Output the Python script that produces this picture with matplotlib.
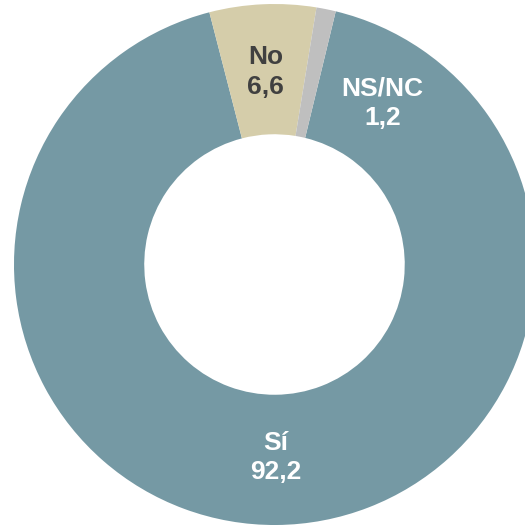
import numpy as np
import matplotlib.pyplot as plt

labels = ['Sí', 'No', 'NS/NC']
values = [92.2, 6.6, 1.2]
value_labels = ['92,2', '6,6', '1,2']
colors = ['#7599a4', '#d5cdaa', '#bfbfbf']
text_colors = ['white', '#404040', 'white']

plt.rcParams['font.family'] = ['Liberation Sans', 'DejaVu Sans']

fig = plt.figure(figsize=(5.25, 5.28), dpi=100)
ax = fig.add_axes([0, 0, 1, 1])
wedges, _ = ax.pie(values, colors=colors, startangle=76.4, counterclock=False,
                   radius=1.0, wedgeprops=dict(width=0.5, edgecolor='none'))

# label placement: radius along the wedge middle; the tiny slice gets its label beside it
for w, lab, val, tc in zip(wedges, labels, value_labels, text_colors):
    ang = np.deg2rad((w.theta1 + w.theta2) / 2)
    r = 0.74
    if lab == 'NS/NC':
        ang = np.deg2rad(56.2)
        r = 0.745
    ax.text(r * np.cos(ang), r * np.sin(ang), f'{lab}\n{val}', ha='center', va='center',
            fontsize=19, fontweight='bold', color=tc, linespacing=1.27)

ax.set_aspect('auto')
ax.set_xlim(-1.0537, 0.9616)
ax.set_ylim(-1.0115, 1.0154)
ax.axis('off')
fig.savefig('out.png', dpi=100)
